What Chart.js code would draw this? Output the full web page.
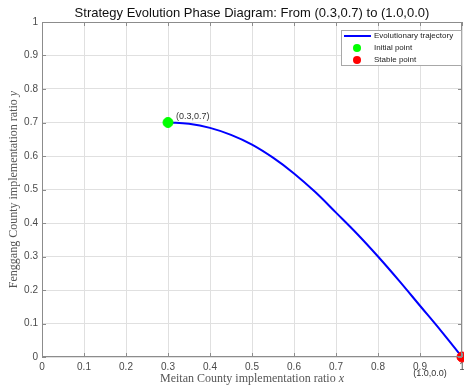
<!DOCTYPE html>
<html>
<head>
<meta charset="utf-8">
<script src="https://cdn.jsdelivr.net/npm/chart.js@4"></script>
<style>
    html, body { margin: 0; padding: 0; background: #fff; }
    #wrap { width: 464px; height: 387px; }
</style>
</head>
<body>
<div id="wrap"><canvas id="phaseChart" width="464" height="387"></canvas></div>
<script>
// trajectory
const trajX = [0.3, 0.35, 0.4, 0.45, 0.5, 0.55, 0.6, 0.65, 0.7, 0.75, 0.8, 0.85, 0.9, 0.95, 1.0];
const trajY = [0.7, 0.696, 0.684, 0.663, 0.634, 0.595, 0.548, 0.493, 0.431, 0.368, 0.300, 0.228, 0.153, 0.078, 0.0];
const startPoint = [0.3, 0.7];
const stablePoint = [1.0, 0.0];
const tickValues = [0, 0.1, 0.2, 0.3, 0.4, 0.5, 0.6, 0.7, 0.8, 0.9, 1];
const tickText = ['0', '0.1', '0.2', '0.3', '0.4', '0.5', '0.6', '0.7', '0.8', '0.9', '1'];
const seriesLabels = ['Evolutionary trajectory', 'Initial point', 'Stable point'];
const titleText = 'Strategy Evolution Phase Diagram: From (0.3,0.7) to (1.0,0.0)';
const xTitle = 'Meitan County implementation ratio ';
const yTitle = 'Fenggang County implementation ratio ';

const SANS = '"Liberation Sans", Arial, sans-serif';
const SERIF = '"Liberation Serif", "Times New Roman", serif';
const GRID = '#e0e0e0';
const AXIS = '#8c8c8c';
const TEXT = '#4a4a4a';

function setTicks(scale) {
    scale.ticks = tickValues.map(v => ({ value: v }));
}

// box, inner tick marks, title, axis titles, point labels, legend
const decorPlugin = {
    id: 'decor',
    afterDraw(chart) {
        const ctx = chart.ctx;
        const a = chart.chartArea;
        const xs = chart.scales.x, ys = chart.scales.y;
        ctx.save();

        // axes box + inward ticks
        ctx.strokeStyle = AXIS;
        ctx.lineWidth = 1;
        ctx.strokeRect(a.left + 0.5, a.top + 0.5, a.right - a.left - 1, a.bottom - a.top - 1);
        ctx.beginPath();
        tickValues.forEach(v => {
            const px = Math.round(xs.getPixelForValue(v)) + 0.5;
            ctx.moveTo(px, a.bottom); ctx.lineTo(px, a.bottom - 4);
            ctx.moveTo(px, a.top); ctx.lineTo(px, a.top + 4);
            const py = Math.round(ys.getPixelForValue(v)) + 0.5;
            ctx.moveTo(a.left, py); ctx.lineTo(a.left + 4, py);
            ctx.moveTo(a.right, py); ctx.lineTo(a.right - 4, py);
        });
        ctx.stroke();

        // title
        ctx.fillStyle = '#111';
        ctx.font = '13px ' + SANS;
        ctx.textAlign = 'center';
        ctx.textBaseline = 'middle';
        ctx.fillText(titleText, (a.left + a.right) / 2, 13);

        // axis titles with italic variable
        ctx.fillStyle = '#555';
        const drawMixed = (main, v, cx, cy) => {
            ctx.font = '12px ' + SERIF;
            const w1 = ctx.measureText(main).width;
            ctx.font = 'italic 12px ' + SERIF;
            const w2 = ctx.measureText(v).width;
            const x0 = cx - (w1 + w2) / 2;
            ctx.textAlign = 'left';
            ctx.font = '12px ' + SERIF;
            ctx.fillText(main, x0, cy);
            ctx.font = 'italic 12px ' + SERIF;
            ctx.fillText(v, x0 + w1, cy);
        };
        drawMixed(xTitle, 'x', (a.left + a.right) / 2, 379);
        ctx.save();
        ctx.translate(14, (a.top + a.bottom) / 2);
        ctx.rotate(-Math.PI / 2);
        drawMixed(yTitle, 'y', 0, 0);
        ctx.restore();

        // point labels
        ctx.fillStyle = '#333';
        ctx.font = '9px ' + SANS;
        ctx.textAlign = 'left';
        ctx.fillText('(' + startPoint[0].toFixed(1) + ',' + startPoint[1].toFixed(1) + ')',
            xs.getPixelForValue(startPoint[0]) + 8, ys.getPixelForValue(startPoint[1]) - 6);
        ctx.textAlign = 'center';
        ctx.fillText('(' + stablePoint[0].toFixed(1) + ',' + stablePoint[1].toFixed(1) + ')',
            xs.getPixelForValue(stablePoint[0]) - 32, ys.getPixelForValue(stablePoint[1]) + 17);

        // legend
        const lx = 341, ly = 30, lw = 121, lh = 36;
        ctx.fillStyle = '#fff';
        ctx.fillRect(lx, ly, lw, lh);
        ctx.strokeStyle = '#a8a8a8';
        ctx.strokeRect(lx + 0.5, ly + 0.5, lw - 1, lh - 1);
        ctx.font = '8px ' + SANS;
        ctx.textAlign = 'left';
        chart.data.datasets.forEach((ds, i) => {
            const cy = ly + 6 + i * 12;
            if (i === 0) {
                ctx.strokeStyle = ds.borderColor;
                ctx.lineWidth = 2;
                ctx.beginPath();
                ctx.moveTo(lx + 3, cy); ctx.lineTo(lx + 30, cy);
                ctx.stroke();
            } else {
                ctx.fillStyle = ds.backgroundColor;
                ctx.beginPath();
                ctx.arc(lx + 16, cy, 4, 0, Math.PI * 2);
                ctx.fill();
            }
            ctx.fillStyle = '#222';
            ctx.fillText(ds.label, lx + 33, cy);
        });
        ctx.restore();
    }
};

const ctx = document.getElementById('phaseChart').getContext('2d');
new Chart(ctx, {
    type: 'scatter',
    data: {
        datasets: [
            {
                label: seriesLabels[0],
                data: trajX.map((x, i) => ({ x: x, y: trajY[i] })),
                showLine: true,
                borderColor: '#0000ff',
                backgroundColor: '#0000ff',
                borderWidth: 2,
                pointRadius: 0,
                tension: 0.4,
                clip: false,
                order: 1
            },
            {
                label: seriesLabels[1],
                data: [{ x: startPoint[0], y: startPoint[1] }],
                backgroundColor: '#00ff00',
                borderColor: '#00ff00',
                pointRadius: 5,
                clip: false,
                order: 0
            },
            {
                label: seriesLabels[2],
                data: [{ x: stablePoint[0], y: stablePoint[1] }],
                backgroundColor: '#ff0000',
                borderColor: '#ff0000',
                pointRadius: 5,
                clip: false,
                order: 0
            }
        ]
    },
    options: {
        responsive: false,
        animation: false,
        layout: { autoPadding: false, padding: { left: 0, top: 22, right: 2, bottom: 0 } },
        plugins: {
            legend: { display: false },
            title: { display: false },
            tooltip: { enabled: false }
        },
        scales: {
            x: {
                type: 'linear',
                min: 0, max: 1,
                afterBuildTicks: setTicks,
                afterFit(scale) { scale.height = 30; scale.paddingLeft = 0; scale.paddingRight = 0; },
                grid: { color: GRID, drawTicks: false },
                border: { display: false },
                ticks: {
                    color: TEXT, padding: 4, maxRotation: 0, autoSkip: false,
                    font: { family: SANS, size: 10 },
                    callback: (v, i) => tickText[i]
                }
            },
            y: {
                type: 'linear',
                min: 0, max: 1,
                afterBuildTicks: setTicks,
                afterFit(scale) { scale.width = 42; scale.paddingTop = 0; scale.paddingBottom = 0; },
                grid: { color: GRID, drawTicks: false },
                border: { display: false },
                ticks: {
                    color: TEXT, padding: 4, autoSkip: false,
                    font: { family: SANS, size: 10 },
                    callback: (v, i) => tickText[i]
                }
            }
        }
    },
    plugins: [decorPlugin]
});
</script>
</body>
</html>
